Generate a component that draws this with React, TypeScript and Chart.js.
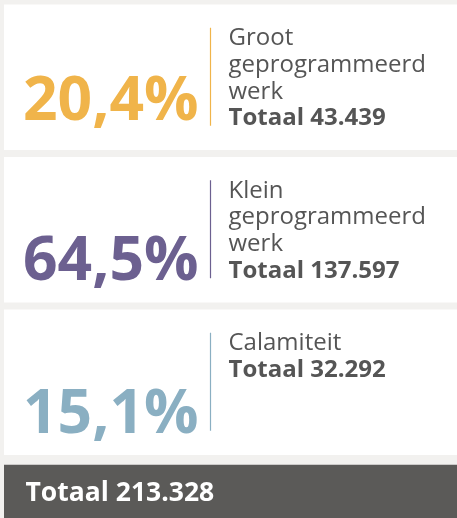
import React, { useEffect, useRef } from "react";
import { Chart, registerables } from "chart.js";

Chart.register(...registerables);

const categories = ["Groot geprogrammeerd werk", "Klein geprogrammeerd werk", "Calamiteit", "Totaal"];
const labelLines = [["Groot", "geprogrammeerd", "werk"], ["Klein", "geprogrammeerd", "werk"], ["Calamiteit"]];
const percentages = ["20,4%", "64,5%", "15,1%"];
const totals = ["43.439", "137.597", "32.292"];
const grandTotal = "213.328";
const panelValues = [1, 1, 1, null];
const totalValues = [null, null, null, 1];
const colors = ["#f0b44a", "#6c6090", "#8aafc2"];

const FONT = "'Open Sans', 'Noto Sans', sans-serif";

const infoPlugin = {
  id: "infoPanels",
  afterDatasetsDraw(chart: any) {
    const ctx = chart.ctx;
    const meta0 = chart.getDatasetMeta(0);
    const pctOffsets = [115.5, 122.5, 123];
    ctx.save();
    for (let i = 0; i < 3; i++) {
      const bar = meta0.data[i];
      const top = bar.y - bar.height / 2;
      // vertical separator
      ctx.strokeStyle = colors[i];
      ctx.lineWidth = 1.2;
      ctx.beginPath();
      ctx.moveTo(210.5, top + 23);
      ctx.lineTo(210.5, top + 121);
      ctx.stroke();
      // percentage
      ctx.fillStyle = colors[i];
      ctx.font = `bold 60.5px ${FONT}`;
      ctx.textAlign = "right";
      ctx.textBaseline = "alphabetic";
      ctx.fillText(percentages[i], 198.5, top + pctOffsets[i]);
      // label lines
      ctx.textAlign = "left";
      ctx.fillStyle = "#555555";
      ctx.font = `24px ${FONT}`;
      const lines = labelLines[i];
      let y = top + 40.5;
      for (const l of lines) {
        ctx.fillText(l, 228.5, y);
        y += 26.7;
      }
      ctx.font = `bold 24px ${FONT}`;
      ctx.fillText(`Totaal ${totals[i]}`, 228.5, y);
    }
    const meta1 = chart.getDatasetMeta(1);
    const tb = meta1.data[3];
    const ttop = tb.y - tb.height / 2;
    ctx.fillStyle = "#ffffff";
    ctx.font = `bold 26.5px ${FONT}`;
    ctx.textAlign = "left";
    ctx.fillText(`Totaal ${grandTotal}`, 25.5, ttop + 36);
    ctx.restore();
  },
};

export default function App() {
  const ref = useRef<HTMLCanvasElement>(null);
  useEffect(() => {
    if (!ref.current) return;
    const chart = new Chart(ref.current, {
      type: "bar",
      data: {
        labels: categories,
        datasets: [
          {
            data: panelValues as any,
            backgroundColor: "#ffffff",
            barThickness: 145,
            grouped: false,
            borderWidth: 0,
          } as any,
          {
            data: totalValues as any,
            backgroundColor: "#5b5a58",
            barThickness: 139.5,
            grouped: false,
            borderWidth: 0,
          } as any,
        ],
      },
      options: {
        indexAxis: "y",
        animation: false,
        responsive: false,
        maintainAspectRatio: false,
        devicePixelRatio: 1,
        layout: { padding: { top: 1, left: 4, right: 0, bottom: 0 } },
        plugins: { legend: { display: false }, tooltip: { enabled: false } },
        scales: {
          x: { display: false, min: 0, max: 1 },
          y: { display: false },
        },
      },
      plugins: [infoPlugin],
    });
    return () => chart.destroy();
  }, []);
  return (
    <div
      style={{
        position: "fixed",
        left: 0,
        top: 0,
        width: 457,
        height: 518,
        overflow: "hidden",
        background: "#f2f1ef",
      }}
    >
      <canvas ref={ref} width={457} height={611} style={{ display: "block" }} />
    </div>
  );
}
